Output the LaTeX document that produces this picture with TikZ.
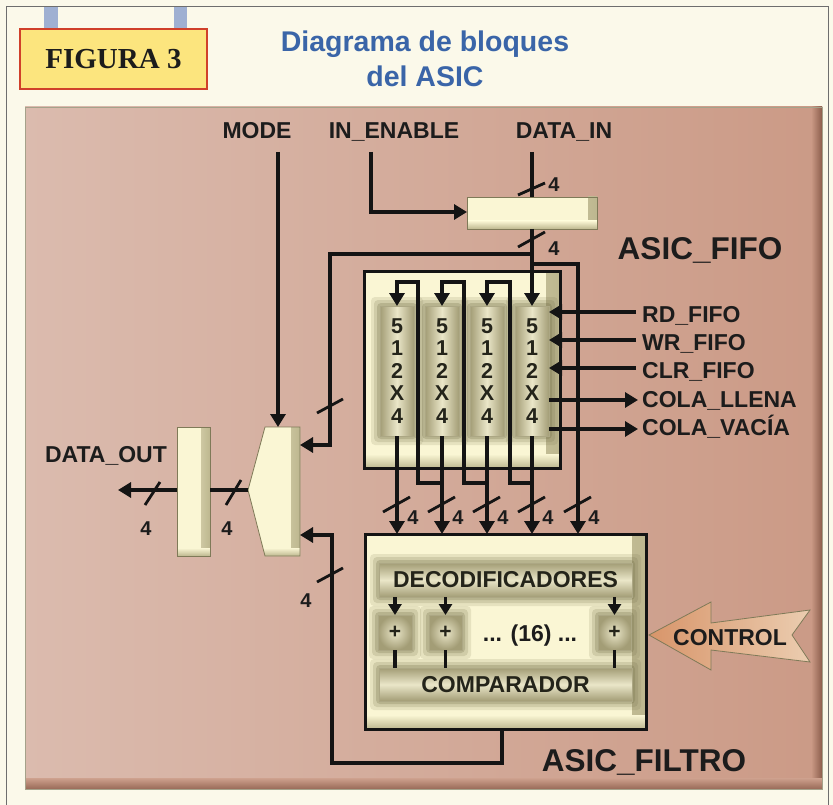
\documentclass[tikz,border=0pt]{standalone}
\usepackage{fontspec}
\setmainfont{Liberation Sans}
\newfontfamily\serifbf{Liberation Serif}
\usetikzlibrary{arrows.meta}
\definecolor{pagebg}{HTML}{FBF9EA}
\definecolor{framec}{HTML}{6E6E6E}
\definecolor{hang}{HTML}{9FB0D2}
\definecolor{figfill}{HTML}{FCE57E}
\definecolor{figline}{HTML}{D0402A}
\definecolor{titlec}{HTML}{3A65A8}
\definecolor{panelL}{HTML}{DBBBAE}
\definecolor{panelR}{HTML}{CB9A86}
\definecolor{paneldark}{HTML}{8C5E4C}
\definecolor{txt}{HTML}{1C1C1C}
\definecolor{wirec}{HTML}{141414}
\definecolor{cream}{HTML}{FAF6D4}
\definecolor{bevdark}{HTML}{BDB78F}
\definecolor{bevline}{HTML}{7F7A58}
\definecolor{celledge}{HTML}{A39D76}
\definecolor{cellmid}{HTML}{EAE6C8}
\definecolor{glowc}{HTML}{6E6A44}
\definecolor{ctlL}{HTML}{D8956A}
\definecolor{ctlR}{HTML}{EBCDB0}
\definecolor{celltxt}{HTML}{24241A}
\pgfdeclarelayer{bg}
\pgfdeclarelayer{glw}
\pgfsetlayers{bg,glw,main}
\newcommand\glowit[1]{%
  \foreach \d/\o in {9/0.14,6/0.18,3/0.25}{%
    \fill[glowc, opacity=\o, rounded corners=4pt] ([xshift=-\d pt, yshift=\d pt]#1.north west) rectangle ([xshift=\d pt, yshift=-\d pt]#1.south east);}}
\begin{document}
\begin{tikzpicture}[x=1pt,y=-1pt,
  lbl/.style={font=\bfseries\fontsize{23}{23}\selectfont, text=txt, inner sep=0pt},
  big/.style={font=\bfseries\fontsize{31.5}{32}\selectfont, text=txt, inner sep=0pt},
  num/.style={font=\bfseries\fontsize{20}{20}\selectfont, text=txt, inner sep=0pt},
  ttl/.style={font=\bfseries\fontsize{28.5}{29}\selectfont, text=titlec, inner sep=0pt},
  wire/.style={line width=3.2pt, draw=wirec, line join=miter},
  arr/.style={wire, -{Triangle[length=13pt,width=15pt]}},
  slash/.style={line width=2.8pt, draw=wirec},
  bev/.style={draw=bevline, line width=0.8pt, fill=cream, inner sep=0pt, outer sep=0pt,
    path picture={
      \shade[left color=cream, right color=bevdark] ([xshift=-9pt]path picture bounding box.north east) rectangle (path picture bounding box.south east);
      \shade[top color=cream, bottom color=bevdark] ([yshift=8pt]path picture bounding box.south west) rectangle (path picture bounding box.south east);}},
  bigbox/.style={draw=wirec, line width=3pt, fill=cream, inner sep=0pt, outer sep=0pt,
    path picture={
      \shade[left color=cream, right color=bevdark] ([xshift=-14pt]path picture bounding box.north east) rectangle (path picture bounding box.south east);
      \shade[top color=cream, bottom color=bevdark] ([yshift=14pt]path picture bounding box.south west) rectangle (path picture bounding box.south east);}},
  cell/.style={draw=celledge!90!white, line width=0.8pt, inner sep=0pt, outer sep=0pt,
    left color=celledge, right color=celledge, middle color=cellmid,
    font=\bfseries\fontsize{21.5}{22.5}\selectfont, text=celltxt, align=center},
  hbox/.style={draw=celledge!90!white, line width=0.8pt, inner sep=0pt, outer sep=0pt,
    top color=celledge, bottom color=celledge, middle color=cellmid,
    font=\bfseries\fontsize{23}{23}\selectfont, text=celltxt},
  pbox/.style={draw=celledge!90!white, line width=0.8pt, inner sep=0pt, outer sep=0pt,
    inner color=cellmid, outer color=celledge,
    font=\bfseries\fontsize{21}{21}\selectfont, text=celltxt},
]
\useasboundingbox (0,0) rectangle (833,805);

\begin{pgfonlayer}{bg}
\fill[pagebg] (0,0) rectangle (833,805);
\draw[framec, line width=1pt] (6,805) -- (6,7) -- (828,7) -- (828,805);
\fill[hang] (44,7) rectangle (58,29);
\fill[hang] (174,7) rectangle (187,29);
\node[draw=figline, line width=1.2pt, fill=figfill, minimum width=187pt, minimum height=60pt, inner sep=0pt,
  font=\serifbf\bfseries\fontsize{29}{29}\selectfont, text=txt] (fig) at (113.5,59) {FIGURA 3};
\node[ttl, anchor=base] (t1) at (425,52) {Diagrama de bloques};
\node[ttl, anchor=base] (t2) at (425,87) {del ASIC};
% panel
\shade[left color=panelL, right color=panelR] (25,107) rectangle (822,789);
\shade[left color=panelR, right color=paneldark] (811,107) rectangle (822,789);
\shade[top color=panelR!80!panelL, bottom color=paneldark!80!panelR] (25,778) rectangle (822,789);
\draw[bevline!70, line width=0.6pt] (25,107) rectangle (822,789);
% big boxes
\node[bigbox, minimum width=196pt, minimum height=196pt] (fifo) at (462,370) {};
\node[bigbox, minimum width=281pt, minimum height=195pt] (filt) at (505.5,631.5) {};
\end{pgfonlayer}

% FIFO cells
\node[cell, minimum width=34pt, minimum height=130pt] (c1) at (397,371) {5\\1\\2\\X\\4};
\node[cell, minimum width=34pt, minimum height=130pt] (c2) at (442,371) {5\\1\\2\\X\\4};
\node[cell, minimum width=34pt, minimum height=130pt] (c3) at (487,371) {5\\1\\2\\X\\4};
\node[cell, minimum width=34pt, minimum height=130pt] (c4) at (532,371) {5\\1\\2\\X\\4};

% filter internals
\node[hbox, minimum width=253pt, minimum height=34pt] (dec) at (505.5,580) {DECODIFICADORES};
\node[pbox, minimum width=34pt, minimum height=35pt] (p1) at (395,632.5) {+};
\node[pbox, minimum width=33pt, minimum height=35pt] (p2) at (445.5,632.5) {+};
\node[pbox, minimum width=33pt, minimum height=35pt] (p3) at (614.5,632.5) {+};
\node[lbl, anchor=base] (dots) at (530,641) {... (16) ...};
\node[hbox, minimum width=253pt, minimum height=33pt] (comp) at (505.5,684.5) {COMPARADOR};

\begin{pgfonlayer}{glw}
\glowit{c1}\glowit{c2}\glowit{c3}\glowit{c4}
\glowit{dec}\glowit{p1}\glowit{p2}\glowit{p3}\glowit{comp}
\end{pgfonlayer}

% registers and mux
\node[bev, minimum width=130pt, minimum height=32pt] (reg) at (532,213) {};
\node[bev, minimum width=33pt, minimum height=129pt] (oreg) at (193.5,491.5) {};
\path[bev] (265,427) -- (300,427) -- (300,556) -- (265,556) -- (248,490) -- cycle;
\coordinate (msel) at (278,427);
\coordinate (min1) at (300,445);
\coordinate (min2) at (300,535);
\coordinate (mout) at (248,490);

% top labels
\node[lbl, anchor=base] (mode) at (257,139) {MODE};
\node[lbl, anchor=base] (inen) at (394,139) {IN\_ENABLE};
\node[lbl, anchor=base] (din) at (564,139) {DATA\_IN};
\node[big, anchor=base] (afifo) at (700,260) {ASIC\_FIFO};
\node[big, anchor=base] (afilt) at (644,771) {ASIC\_FILTRO};
\node[lbl, anchor=base] (dout) at (106,462) {DATA\_OUT};

% MODE and IN_ENABLE
\coordinate (modeA) at (278,152);
\draw[arr] (modeA) -- (msel);
\coordinate (ienA) at (371,152);
\draw[arr] (ienA) -- (371,212) -- (reg.west |- 0,212);

% DATA_IN
\coordinate (dinA) at (532,152);
\draw[wire] (dinA) -- (reg.north);
\draw[slash] (518,195) -- (545,183);
\node[num, anchor=base] (n1) at (554,192) {4};
\draw[arr] (reg.south) -- (c4.north);
\draw[slash] (518,247) -- (545,232);
\node[num, anchor=base] (n2) at (554,255) {4};

% bypass to mux
\coordinate (b1) at (532,254);
\coordinate (k1) at (330,254);
\draw[arr] (b1) -- (k1) -- (k1 |- min1) -- (min1);
\draw[slash] (317,413) -- (343,399);

% direct to filter
\coordinate (b2) at (532,264);
\coordinate (k5) at (578,264);
\draw[arr] (b2) -- (k5) -- (k5 |- filt.north);

% cell outputs
\draw[arr] (c1.south) -- (c1.south |- filt.north);
\draw[arr] (c2.south) -- (c2.south |- filt.north);
\draw[arr] (c3.south) -- (c3.south |- filt.north);
\draw[arr] (c4.south) -- (c4.south |- filt.north);

% shift loops
\coordinate (j2) at (442,483);
\coordinate (j3) at (487,483);
\coordinate (j4) at (532,483);
\draw[arr] (j2) -- (418,483) -- (418,282) -- (c1.north |- 0,282) -- (c1.north);
\draw[arr] (j3) -- (464,483) -- (464,282) -- (c2.north |- 0,282) -- (c2.north);
\draw[arr] (j4) -- (510,483) -- (510,282) -- (c3.north |- 0,282) -- (c3.north);

% bus slashes to filter
\foreach \x/\i in {397/a,442/b,487/c,532/d,578/e}{
  \draw[slash] (\x-14,512) -- (\x+13,497);
  \node[num, anchor=base] (m\i) at (\x+16,524) {4};
}

% FIFO control signals
\node[lbl, anchor=base west] (rd) at (642,322) {RD\_FIFO};
\node[lbl, anchor=base west] (wr) at (642,350) {WR\_FIFO};
\node[lbl, anchor=base west] (clr) at (642,378) {CLR\_FIFO};
\node[lbl, anchor=base west] (llena) at (642,407) {COLA\_LLENA};
\node[lbl, anchor=base west] (vacia) at (642,435) {COLA\_VACÍA};
\coordinate (rdA) at (636,312);
\coordinate (wrA) at (636,340);
\coordinate (clrA) at (636,368);
\coordinate (llA) at (638,400);
\coordinate (vaA) at (638,429);
\draw[arr] (rdA) -- (rdA -| c4.east);
\draw[arr] (wrA) -- (wrA -| c4.east);
\draw[arr] (clrA) -- (clrA -| c4.east);
\draw[arr] (llA -| c4.east) -- (llA);
\draw[arr] (vaA -| c4.east) -- (vaA);

% filter internal arrows
\draw[wire, -{Triangle[length=11pt,width=13pt]}] (dec.south -| p1.north) -- (p1.north);
\draw[wire, -{Triangle[length=11pt,width=13pt]}] (dec.south -| p2.north) -- (p2.north);
\draw[wire, -{Triangle[length=11pt,width=13pt]}] (dec.south -| p3.north) -- (p3.north);
\draw[wire] (p1.south) -- (p1.south |- comp.north);
\draw[wire] (p2.south) -- (p2.south |- comp.north);
\draw[wire] (p3.south) -- (p3.south |- comp.north);

% filter output back to mux
\coordinate (fo) at (502,729);
\draw[arr] (fo) -- (502,763) -- (332,763) -- (332,535) -- (min2);
\draw[slash] (317,582) -- (343,568);
\node[num, anchor=base] (n3) at (306,607) {4};

% mux to output register to DATA_OUT
\draw[wire] (mout) -- (oreg.east |- mout);
\draw[slash] (226,505) -- (241,480);
\node[num, anchor=base] (n4) at (227,535) {4};
\coordinate (doutA) at (118,490);
\draw[arr] (oreg.west |- mout) -- (doutA);
\draw[slash] (145,505) -- (160,482);
\node[num, anchor=base] (n5) at (146,535) {4};

% CONTROL arrow
\draw[draw=bevline, line width=0.8pt, left color=ctlL, right color=ctlR]
  (649,635) -- (711,602) -- (711,623) -- (810,610) -- (792,635) -- (810,662) -- (711,650) -- (711,670) -- cycle;
\node[lbl, anchor=base] (ctl) at (730,645) {CONTROL};
\end{tikzpicture}
\end{document}
